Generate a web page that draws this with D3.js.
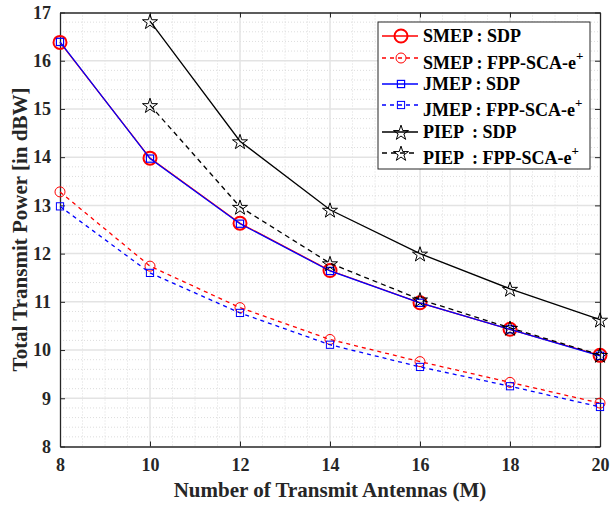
<!DOCTYPE html>
<html>
<head>
<meta charset="utf-8">
<script src="https://cdn.jsdelivr.net/npm/d3@7"></script>
<style>
  body { margin: 0; background: #fff; }
  svg { display: block; }
  text { white-space: pre; font-family: "Liberation Serif", "Times New Roman", serif; font-weight: bold; }
</style>
</head>
<body>
<svg width="612" height="506"></svg>
<script>
const antennas = [8, 10, 12, 14, 16, 18, 20];
const piepAntennas = [10, 12, 14, 16, 18, 20];
const smepSdp = [16.38, 13.98, 12.63, 11.65, 10.98, 10.43, 9.89];
const smepFpp = [13.28, 11.74, 10.88, 10.22, 9.76, 9.33, 8.9];
const jmepSdp = [16.39, 13.97, 12.62, 11.64, 10.98, 10.43, 9.88];
const jmepFpp = [12.98, 11.6, 10.77, 10.11, 9.65, 9.25, 8.82];
const piepSdp = [16.82, 14.33, 12.91, 12.0, 11.27, 10.63];
const piepFpp = [15.08, 12.97, 11.8, 11.05, 10.46, 9.9];
const xTicks = [8, 10, 12, 14, 16, 18, 20];
const yTicks = [8, 9, 10, 11, 12, 13, 14, 15, 16, 17];

const [LEFT, RIGHT, TOP, BOTTOM] = [60, 600, 12.5, 446.5];
const AXIS_COLOR = "#262626";
const SERIF = '"Liberation Serif", "Times New Roman", serif';

const x = d3.scaleLinear().domain([8, 20]).range([LEFT, RIGHT]);
const y = d3.scaleLinear().domain([8, 17]).range([BOTTOM, TOP]);

const series = [
  { name: "SMEP : SDP", sup: false, xs: antennas, ys: smepSdp, color: "#ff0000", dash: null, marker: "circle", r: 6.5, mw: 2 },
  { name: "SMEP : FPP-SCA-e", sup: true, xs: antennas, ys: smepFpp, color: "#ff0000", dash: "4,4", marker: "circle", r: 5, mw: 1 },
  { name: "JMEP : SDP", sup: false, xs: antennas, ys: jmepSdp, color: "#0000ff", dash: null, marker: "square", r: 3.6, mw: 1.2 },
  { name: "JMEP : FPP-SCA-e", sup: true, xs: antennas, ys: jmepFpp, color: "#0000ff", dash: "4,4", marker: "square", r: 3.6, mw: 1 },
  { name: "PIEP  : SDP", sup: false, xs: piepAntennas, ys: piepSdp, color: "#000000", dash: null, marker: "star", r: 7, mw: 1 },
  { name: "PIEP  : FPP-SCA-e", sup: true, xs: piepAntennas, ys: piepFpp, color: "#000000", dash: "5,4", marker: "star", r: 7, mw: 1 },
];

const svg = d3.select("svg");

// plot background
svg.append("rect")
  .attr("x", LEFT).attr("y", TOP)
  .attr("width", RIGHT - LEFT).attr("height", BOTTOM - TOP)
  .attr("fill", "#ffffff");

// minor grid
const grid = svg.append("g");
grid.selectAll(".minor-x")
  .data(d3.range(8.5, 20, 0.5).filter((v) => v % 2 !== 0))
  .enter().append("line")
  .attr("x1", (d) => x(d)).attr("x2", (d) => x(d))
  .attr("y1", TOP).attr("y2", BOTTOM)
  .attr("stroke", "#d4d4d4").attr("stroke-width", 0.8).attr("stroke-dasharray", "1,2");
grid.selectAll(".minor-y")
  .data(d3.range(8.2, 17, 0.2).filter((v) => Math.abs(v - Math.round(v)) > 0.05))
  .enter().append("line")
  .attr("x1", LEFT).attr("x2", RIGHT)
  .attr("y1", (d) => y(d)).attr("y2", (d) => y(d))
  .attr("stroke", "#d4d4d4").attr("stroke-width", 0.8).attr("stroke-dasharray", "1,2");

// major grid
grid.selectAll(".major-x")
  .data(xTicks.slice(1, -1))
  .enter().append("line")
  .attr("x1", (d) => x(d)).attr("x2", (d) => x(d))
  .attr("y1", TOP).attr("y2", BOTTOM)
  .attr("stroke", "#e3e3e3").attr("stroke-width", 1.5);
grid.selectAll(".major-y")
  .data(yTicks.slice(1, -1))
  .enter().append("line")
  .attr("x1", LEFT).attr("x2", RIGHT)
  .attr("y1", (d) => y(d)).attr("y2", (d) => y(d))
  .attr("stroke", "#e3e3e3").attr("stroke-width", 1.5);

// axes (ticks pointing inward, box on all sides)
const styleAxis = (g) => {
  g.select(".domain").attr("stroke", AXIS_COLOR).attr("stroke-width", 1.3);
  g.selectAll(".tick line").attr("stroke", AXIS_COLOR).attr("stroke-width", 1);
  g.selectAll("text")
    .attr("fill", AXIS_COLOR)
    .style("font-family", SERIF)
    .style("font-weight", "bold")
    .style("font-size", "18px");
};

svg.append("g")
  .attr("transform", `translate(0,${BOTTOM})`)
  .call(d3.axisBottom(x).tickValues(xTicks).tickSize(-5).tickSizeOuter(0).tickPadding(12))
  .call(styleAxis);
svg.append("g")
  .attr("transform", `translate(0,${TOP})`)
  .call(d3.axisTop(x).tickValues(xTicks).tickSize(-5).tickSizeOuter(0).tickFormat(""))
  .call(styleAxis);
svg.append("g")
  .attr("transform", `translate(${LEFT},0)`)
  .call(d3.axisLeft(y).tickValues(yTicks).tickSize(-5).tickSizeOuter(0).tickPadding(9))
  .call(styleAxis);
svg.append("g")
  .attr("transform", `translate(${RIGHT},0)`)
  .call(d3.axisRight(y).tickValues(yTicks).tickSize(-5).tickSizeOuter(0).tickFormat(""))
  .call(styleAxis);

// axis titles
svg.append("text")
  .attr("x", x(14)).attr("y", 497)
  .attr("text-anchor", "middle")
  .attr("fill", AXIS_COLOR)
  .style("font-size", "21px")
  .text("Number of Transmit Antennas (M)");
svg.append("text")
  .attr("transform", `translate(27,${(TOP + BOTTOM) / 2}) rotate(-90)`)
  .attr("text-anchor", "middle")
  .attr("fill", AXIS_COLOR)
  .style("font-size", "21px")
  .text("Total Transmit Power [in dBW]");

// markers
const drawMarker = (g, s, cx, cy) => {
  if (s.marker === "circle") {
    g.append("circle").attr("cx", cx).attr("cy", cy).attr("r", s.r)
      .attr("fill", "none").attr("stroke", s.color).attr("stroke-width", s.mw);
  } else if (s.marker === "square") {
    g.append("rect").attr("x", cx - s.r).attr("y", cy - s.r)
      .attr("width", 2 * s.r).attr("height", 2 * s.r)
      .attr("fill", "none").attr("stroke", s.color).attr("stroke-width", s.mw);
  } else {
    g.append("path")
      .attr("d", d3.symbol(d3.symbolStar, 70)())
      .attr("transform", `translate(${cx},${cy + 1})`)
      .attr("fill", "none").attr("stroke", s.color).attr("stroke-width", s.mw);
  }
};

const line = d3.line().x((d) => x(d[0])).y((d) => y(d[1]));
const plot = svg.append("g");
series.forEach((s) => {
  const pts = s.xs.map((v, i) => [v, s.ys[i]]);
  plot.append("path")
    .attr("d", line(pts))
    .attr("fill", "none")
    .attr("stroke", s.color)
    .attr("stroke-width", 1.3)
    .attr("stroke-dasharray", s.dash);
  pts.forEach((p) => drawMarker(plot, s, x(p[0]), y(p[1])));
});

// legend
const LEG_X = 378, LEG_Y = 22, LEG_W = 212, LEG_H = 147;
const legend = svg.append("g");
legend.append("rect")
  .attr("x", LEG_X).attr("y", LEG_Y)
  .attr("width", LEG_W).attr("height", LEG_H)
  .attr("fill", "#ffffff").attr("stroke", AXIS_COLOR).attr("stroke-width", 1);
const markerY = [36, 58, 84, 105, 132, 153];
const textY = [42, 69, 90, 116, 138, 164];
series.forEach((s, i) => {
  const ry = markerY[i];
  legend.append("line")
    .attr("x1", 382).attr("x2", 418).attr("y1", ry).attr("y2", ry)
    .attr("stroke", s.color).attr("stroke-width", 1.3)
    .attr("stroke-dasharray", s.dash);
  drawMarker(legend, s, 401, ry);
  const t = legend.append("text")
    .attr("x", 423).attr("y", textY[i])
    .attr("fill", "#000")
    .style("font-family", SERIF)
    .style("font-weight", "bold")
    .style("font-size", "18px")
    .text(s.name);
  if (s.sup) {
    t.append("tspan").attr("dy", -9).style("font-size", "13px").text("+");
  }
});
</script>
</body>
</html>
